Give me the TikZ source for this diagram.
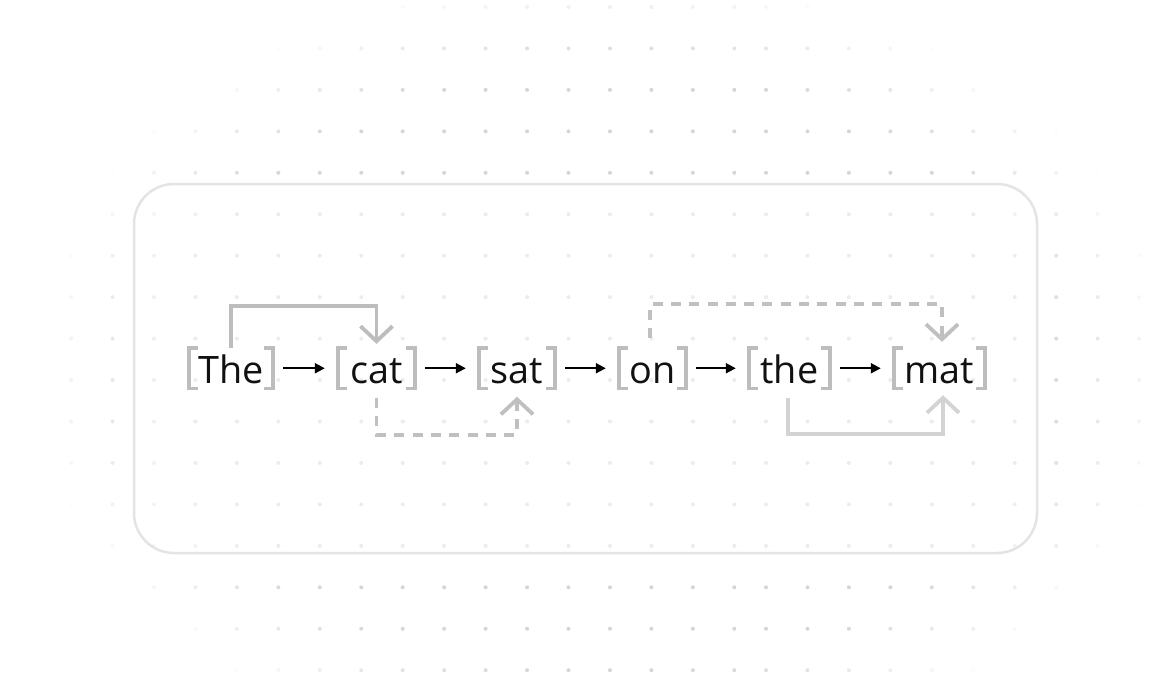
\documentclass[tikz,border=0pt]{standalone}
\usepackage{fontspec}
\setmainfont{Open Sans}
\usetikzlibrary{arrows.meta}
\definecolor{dotc}{HTML}{D6D6D6}
\definecolor{boxc}{HTML}{E4E4E4}
\definecolor{brkc}{HTML}{BDBDBD}
\definecolor{linkc}{HTML}{BDBDBD}
\definecolor{dashc}{HTML}{C0C0C0}
\definecolor{softc}{HTML}{D3D3D3}
\definecolor{inkc}{HTML}{111111}
\newcommand\bgdot[2]{%
  \pgfmathsetmacro\bgdd{sqrt(((#1-605)/575)^2+((#2-370)/400)^2)}%
  \pgfmathsetmacro\bgop{max(0,min(1,(1-\bgdd)/0.25))}%
  \ifdim\bgop pt>0.01pt \fill[dotc, opacity=\bgop] (#1,#2) circle[radius=2pt];\fi}
\begin{document}
\begin{tikzpicture}[x=1pt,y=-1pt,
  tok/.style={inner sep=0pt, anchor=base, text height=35pt, text depth=5.5pt,
    font=\fontsize{37.8}{40}\selectfont, text=inkc},
  brk/.style={draw=brkc, line width=3.5pt},
  seq/.style={draw=black, line width=2pt, shorten <=10pt, shorten >=13pt,
    -{Triangle[length=10pt,width=10pt]}},
  barb/.style={-{Straight Barb[length=15pt,width=32pt]}},
  link/.style={draw=linkc, line width=3.8pt, barb},
  dlink/.style={draw=dashc, line width=3.8pt, dash pattern=on 10pt off 8.3pt, barb},
  slink/.style={draw=softc, line width=3.8pt, barb}]
\useasboundingbox (0,0) rectangle (1172,694);
\fill[white] (0,0) rectangle (1172,694);
% dotted background
\foreach \j in {0,...,16}{%
  \pgfmathsetmacro\yy{7+41.45*\j}%
  \foreach \k in {0,...,17}{\pgfmathsetmacro\xx{29.65+41.45*\k}\bgdot{\xx}{\yy}}%
  \foreach \k in {0,...,9}{\pgfmathsetmacro\xx{766+41.45*\k}\bgdot{\xx}{\yy}}%
}
% frame
\draw[draw=boxc, line width=2.5pt, fill=white, fill opacity=0.55, rounded corners=40pt]
  (134,184) rectangle (1037,553);
% tokens
\node[tok, minimum width=84pt] (The) at (231,383) {The};
\node[tok, minimum width=77pt] (cat) at (376.5,383) {cat};
\node[tok, minimum width=76pt] (sat) at (517,383) {sat};
\node[tok, minimum width=67pt] (on)  at (652.5,383) {on};
\node[tok, minimum width=81pt] (the) at (789.5,383) {the};
\node[tok, minimum width=91pt] (mat) at (939.5,383) {mat};
% brackets
\foreach \n in {The,cat,sat,on,the,mat}{%
  \draw[brk] ([xshift=9pt]\n.north west) -- (\n.north west) -- (\n.south west) -- ([xshift=9pt]\n.south west);
  \draw[brk] ([xshift=-9pt]\n.north east) -- (\n.north east) -- (\n.south east) -- ([xshift=-9pt]\n.south east);
}
% sequence arrows
\draw[seq] (The.east) -- (cat.west);
\draw[seq] (cat.east) -- (sat.west);
\draw[seq] (sat.east) -- (on.west);
\draw[seq] (on.east) -- (the.west);
\draw[seq] (the.east) -- (mat.west);
% skip links
\draw[link, shorten >=4pt] (The.north) -- ++(0,-42) -| (cat.north);
\draw[dlink, shorten >=8pt] ([yshift=-9pt]cat.south) -- ++(0,37) -| (sat.south);
\draw[dlink, shorten >=6pt] ([xshift=-2.5pt,yshift=10pt]on.north) -- ++(0,-34) -| ([xshift=2.5pt]mat.north);
\draw[slink, shorten >=6.5pt] ([xshift=-1.5pt,yshift=-9pt]the.south) -- ++(0,36) -| ([xshift=3.5pt]mat.south);
\end{tikzpicture}
\end{document}
